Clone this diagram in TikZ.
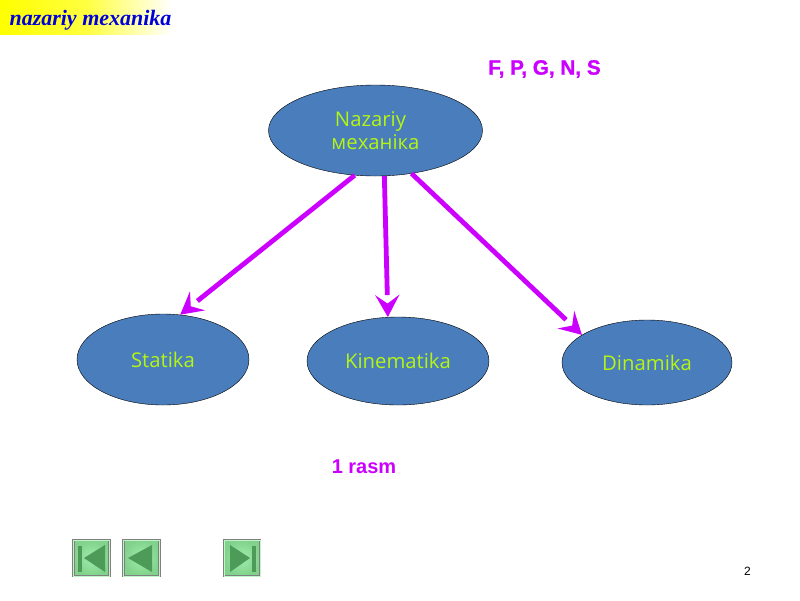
\documentclass[tikz,border=0pt]{standalone}
\usepackage{fontspec}
\setmainfont{Liberation Sans}
\newfontfamily\titlefont{Liberation Serif}
\newfontfamily\labelfont{Open Sans}
\newfontfamily\heavyfont[UprightFont=*-Bold,FakeBold=1.2]{Liberation Sans}
\usetikzlibrary{arrows.meta,shapes.geometric,positioning,decorations.markings}
\definecolor{blob}{HTML}{4A7DBB}
\definecolor{lime}{HTML}{B4F514}
\definecolor{purp}{HTML}{CC00FF}
\definecolor{btnfill}{HTML}{8FE99B}
\definecolor{btndark}{HTML}{4E9A58}
\begin{document}
\begin{tikzpicture}[x=1pt,y=-1pt,
        blob/.style={ellipse,draw=black,fill=blob,text=lime,inner sep=0pt,font=\labelfont\fontsize{20.3}{23.5}\selectfont,align=center},
        branch/.style={draw=purp,line width=4.8pt,shorten >=22pt,
            decoration={markings,mark=at position 1 with {\arrow[purp]{Stealth[length=22pt,width=24pt,inset=8.5pt]}}},
            postaction={decorate}},
        purptext/.style={text=purp,font=\bfseries\fontsize{20}{22}\selectfont},
        button/.style={draw=black!50,line width=0.8pt,double=btnfill!55!white,double distance=1pt,inner color=btnfill!85!white,outer color=btnfill!90!black,minimum size=36pt,inner sep=0pt},
        btnmark/.style={fill=btndark,draw=none}]
    \useasboundingbox (0,0) rectangle (800,600);
    \shade [left color=yellow,right color=white,middle color=yellow!75!white] (0,0) rectangle (172,34);
    \node [text=blue!85!black,font=\titlefont\bfseries\itshape\fontsize{22}{24}\selectfont] (title) at (90.5,20) {nazariy mexanika};
    \node [text=purp,font=\heavyfont\fontsize{20.7}{22}\selectfont] (forces) at (544.5,69) {F, P, G, N, S};

    \node [blob,minimum width=214pt,minimum height=91pt] (mech) at (375.5,130.5) {Nazariy\hspace*{10pt}\\ механіка};
    \node [blob,minimum width=172pt,minimum height=91pt] (stat) at (163,359.5) {Statika};
    \node [blob,minimum width=182pt,minimum height=88pt] (kin) at (398,361) {Kinematika};
    \node [blob,minimum width=170pt,minimum height=85pt] (dyn) at (647,362.5) {Dinamika};

    \draw [branch] (mech.245) -- (stat.69);
    \draw [branch] (mech.281) -- (kin.103);
    \draw [branch] (mech.310) -- (dyn.157);

    \node [purptext] (fig) at (364,466.5) {1 rasm};

    \node [button] (first) at (91.5,558) {};
    \node [button] (prev) at (141.5,558) {};
    \node [button] (next) at (242,558) {};
    \fill [btnmark] (78,546) rectangle (82,572);
    \fill [btnmark] (84,558) -- (105,545) -- (105,572) -- cycle;
    \fill [btnmark] (128,558) -- (152,545) -- (152,572) -- cycle;
    \fill [btnmark] (250,558) -- (230,545) -- (230,572) -- cycle;
    \fill [btnmark] (252,546) rectangle (256,572);

    \node [font=\fontsize{12}{14}\selectfont] (page) at (747.5,571.5) {2};
\end{tikzpicture}
\end{document}
